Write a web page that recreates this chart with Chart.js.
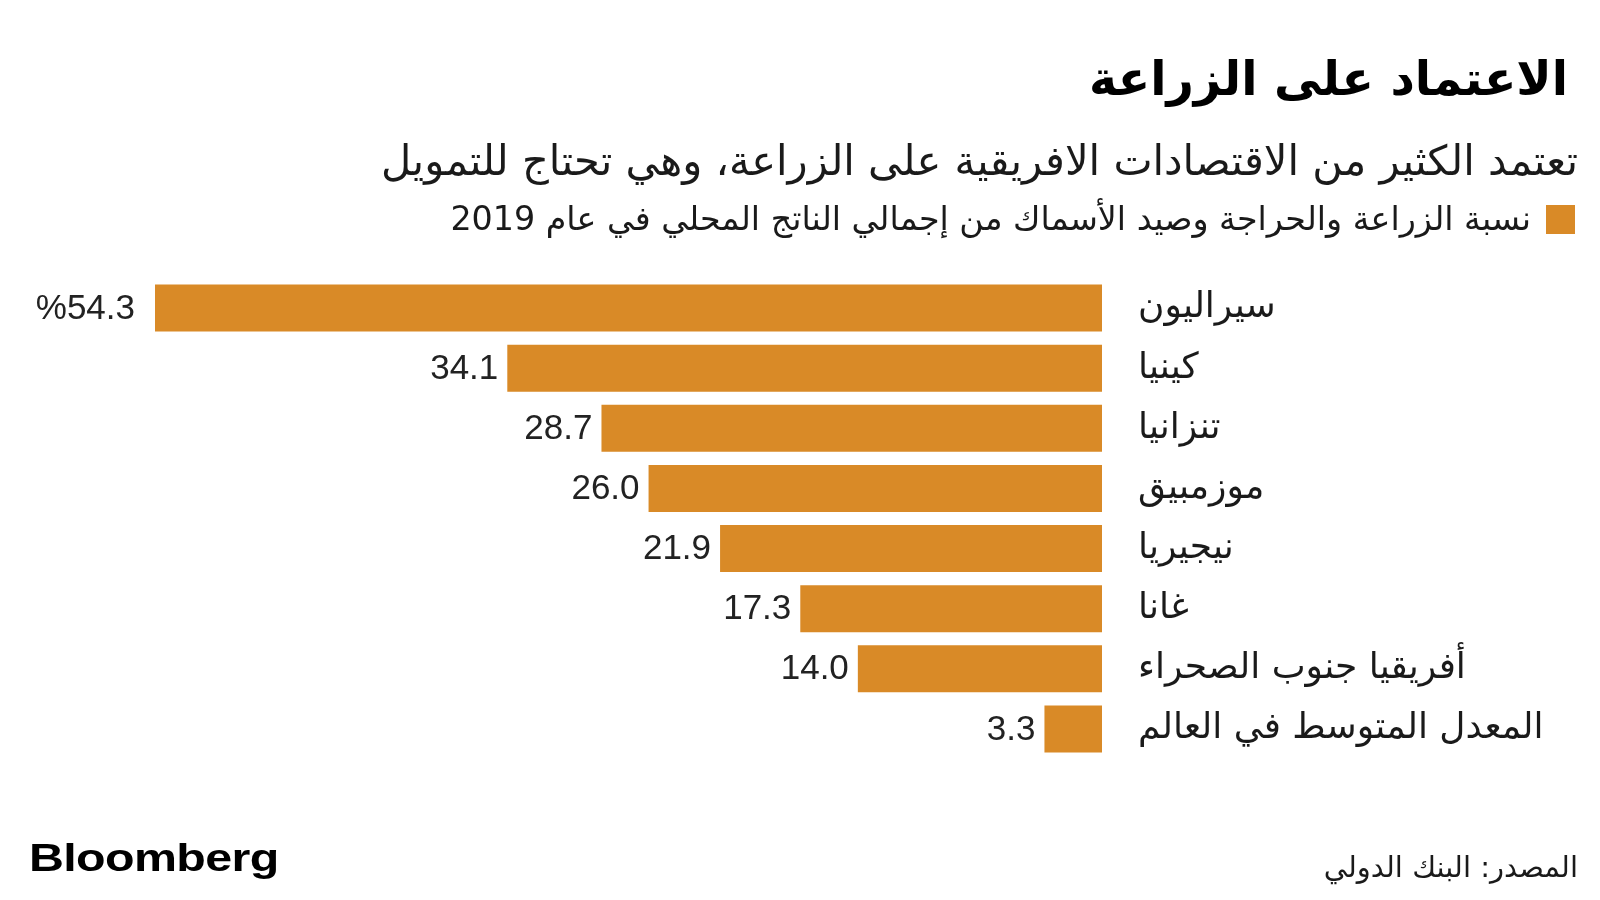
<!DOCTYPE html>
<html lang="ar">
<head>
<meta charset="utf-8">
<script src="https://cdn.jsdelivr.net/npm/chart.js@4.4.1/dist/chart.umd.min.js"></script>
<style>
html,body{margin:0;padding:0;background:#fff;}
#wrap{position:relative;width:1600px;height:900px;overflow:hidden;background:#fff;}
#chart{position:absolute;left:0;top:0;}
.t{position:absolute;white-space:nowrap;direction:rtl;font-family:"DejaVu Sans",sans-serif;color:#1a1a1a;}
#title{right:32px;top:48px;font-size:47.5px;font-weight:bold;line-height:62px;color:#000;}
#subtitle{right:22px;top:134px;font-size:41.6px;line-height:54px;}
#legend{right:25px;top:199px;font-size:33.3px;line-height:40px;display:flex;align-items:center;}
#legend .sw{width:29px;height:29px;background:#d98a27;margin-left:15px;flex:none;}
#logo{left:29px;top:835px;font-family:"Liberation Sans",Arial,sans-serif;font-weight:bold;font-size:39px;line-height:46px;color:#000;transform:scaleX(1.24);transform-origin:left center;direction:ltr;letter-spacing:-0.5px;}
#source{right:22px;top:848px;font-size:29px;line-height:38px;}
</style>
</head>
<body>
<div id="wrap">
  <canvas id="chart" width="1600" height="900"></canvas>
  <div class="t" id="title">الاعتماد على الزراعة</div>
  <div class="t" id="subtitle">تعتمد الكثير من الاقتصادات الافريقية على الزراعة، وهي تحتاج للتمويل</div>
  <div class="t" id="legend"><span class="sw"></span><span id="legendText"></span></div>
  <div class="t" id="logo">Bloomberg</div>
  <div class="t" id="source">المصدر: البنك الدولي</div>
</div>
<script>
// ---- Data ----
const categories = ['سيراليون', 'كينيا', 'تنزانيا', 'موزمبيق', 'نيجيريا', 'غانا', 'أفريقيا جنوب الصحراء', 'المعدل المتوسط في العالم'];
const values = [54.3, 34.1, 28.7, 26.0, 21.9, 17.3, 14.0, 3.3];
const seriesName = 'نسبة الزراعة والحراجة وصيد الأسماك من إجمالي الناتج المحلي في عام 2019';
const xMin = 0;
const xMax = 60;

document.getElementById('legendText').textContent = seriesName;

const barColor = '#d98a27';

const valueLabels = {
  id: 'valueLabels',
  afterDatasetsDraw(chart) {
    const ctx = chart.ctx;
    const meta = chart.getDatasetMeta(0);
    ctx.save();
    ctx.font = '35px "Liberation Sans", Arial, sans-serif';
    ctx.fillStyle = '#222';
    ctx.textAlign = 'right';
    ctx.textBaseline = 'middle';
    meta.data.forEach((bar, i) => {
      const v = values[i].toFixed(1);
      const txt = i === 0 ? '%' + v : v;
      ctx.fillText(txt, bar.x - (i === 0 ? 20 : 9), bar.y + 1);
    });
    ctx.restore();
  }
};

new Chart(document.getElementById('chart'), {
  type: 'bar',
  data: {
    labels: categories,
    datasets: [{
      label: seriesName,
      data: values,
      backgroundColor: barColor,
      borderWidth: 0,
      barPercentage: 0.78,
      categoryPercentage: 1.0
    }]
  },
  options: {
    indexAxis: 'y',
    responsive: false,
    animation: false,
    layout: { padding: { left: 55.6, right: 0, top: 278, bottom: 141 } },
    plugins: {
      legend: { display: false },
      tooltip: { enabled: false },
      title: { display: false }
    },
    scales: {
      x: {
        type: 'linear',
        reverse: true,
        min: xMin,
        max: xMax,
        display: false
      },
      y: {
        position: 'right',
        grid: { display: false, drawTicks: false },
        border: { display: false },
        ticks: {
          crossAlign: 'near',
          padding: 36,
          color: '#1a1a1a',
          font: { family: '"DejaVu Sans", sans-serif', size: 36 }
        },
        afterFit(scale) { scale.width = 498; }
      }
    }
  },
  plugins: [valueLabels]
});
</script>
</body>
</html>
